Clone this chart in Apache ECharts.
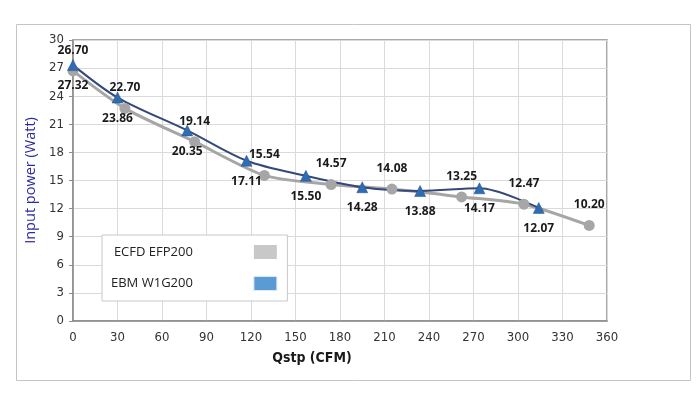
<!DOCTYPE html>
<html><head><meta charset="utf-8">
<script src="https://cdn.jsdelivr.net/npm/echarts@6/dist/echarts.min.js"></script>
<style>html,body{margin:0;padding:0;background:#fff}#c{width:700px;height:400px}</style>
</head><body><div id="c"></div>
<script>
// Series: ECFD EFP200 (gray circles)
const ecfdX = [0, 35, 82, 129, 174, 215, 262, 304, 348];
const ecfdY = [26.70, 22.70, 19.14, 15.54, 14.57, 14.08, 13.25, 12.47, 10.20];
// Series: EBM W1G200 (blue triangles)
const ebmX = [0, 30, 77, 117, 157, 195, 234, 274, 314];
const ebmY = [27.32, 23.86, 20.35, 17.11, 15.50, 14.28, 13.88, 14.17, 12.07];
const seriesNames = ['ECFD EFP200', 'EBM W1G200'];
const xTicks = {min: 0, max: 360, interval: 30};
const yTicks = {min: 0, max: 30, interval: 3};

const font = '"DejaVu Sans Condensed", "Liberation Sans Narrow", "Open Sans", sans-serif';
const chart = echarts.init(document.getElementById('c'));
const lblStyle = {show: true, fontSize: 12, fontWeight: 'bold', color: '#1a1a1a', fontFamily: '"Open Sans", sans-serif', distance: 9,
  formatter: p => p.value[1].toFixed(2)};
chart.setOption({
  animation: false,
  graphic: [{type: 'rect', left: 14, top: 22, shape: {width: 674, height: 356}, style: {fill: 'none', stroke: '#c4c4c4', lineWidth: 1}, z: -10}],
  grid: {left: 73, top: 40, right: 93, bottom: 79, show: true, borderColor: '#8c8c8c', borderWidth: 1.5, backgroundColor: 'transparent'},
  legend: {
    orient: 'vertical', left: 102, top: 235,
    padding: [10, 10, 10, 9], itemGap: 17, itemWidth: 23, itemHeight: 14, align: 'right',
    backgroundColor: '#fff', borderColor: '#c8c8c8', borderWidth: 1,
    icon: 'rect',
    textStyle: {fontSize: 13, color: '#222', fontFamily: '"Open Sans", sans-serif', padding: [0, 56, 0, 0]},
    data: [
      {name: seriesNames[0], itemStyle: {color: '#c8c8c8'}},
      {name: seriesNames[1], itemStyle: {color: '#5b9bd5', borderColor: '#dfe9f5', borderWidth: 1}}
    ]
  },
  xAxis: {
    type: 'value', min: xTicks.min, max: xTicks.max, interval: xTicks.interval,
    name: 'Qstp (CFM)', nameLocation: 'middle', nameGap: 30,
    nameTextStyle: {fontSize: 14, color: '#1a1a1a', fontFamily: font, fontWeight: 'bold', padding: [0, 56, 0, 0]},
    axisLine: {show: true, lineStyle: {color: '#8c8c8c', width: 1.5}},
    axisTick: {show: false},
    axisLabel: {fontSize: 13, color: '#333', fontFamily: font, margin: 10},
    splitLine: {show: true, lineStyle: {color: '#dadada', width: 1}}
  },
  yAxis: {
    type: 'value', min: yTicks.min, max: yTicks.max, interval: yTicks.interval,
    name: 'Input power (Watt)', nameLocation: 'middle', nameGap: 32, nameRotate: 90,
    nameTextStyle: {fontSize: 14.5, color: '#2b2ba0', fontFamily: '"Open Sans", sans-serif'},
    axisLine: {show: true, lineStyle: {color: '#8c8c8c', width: 1.5}},
    axisTick: {show: true, length: 4, inside: false, lineStyle: {color: '#8c8c8c'}},
    axisLabel: {fontSize: 13, color: '#333', fontFamily: font, margin: 9},
    splitLine: {show: true, lineStyle: {color: '#dadada', width: 1}}
  },
  series: [
    {
      name: seriesNames[0], type: 'line', smooth: 0.25,
      data: ecfdX.map((x, i) => [x, ecfdY[i]]),
      symbol: 'circle', symbolSize: 11,
      itemStyle: {color: '#a6a6a6'},
      lineStyle: {color: '#a6a6a6', width: 3},
      label: Object.assign({position: 'top'}, lblStyle)
    },
    {
      name: seriesNames[1], type: 'line', smooth: 0.3,
      data: ebmX.map((x, i) => [x, ebmY[i]]),
      symbol: 'triangle', symbolSize: 11,
      itemStyle: {color: '#2e6db4', borderColor: '#2a4f82', borderWidth: 0.5},
      lineStyle: {color: '#34497a', width: 2},
      label: Object.assign({position: 'bottom'}, lblStyle)
    }
  ]
});
</script></body></html>
